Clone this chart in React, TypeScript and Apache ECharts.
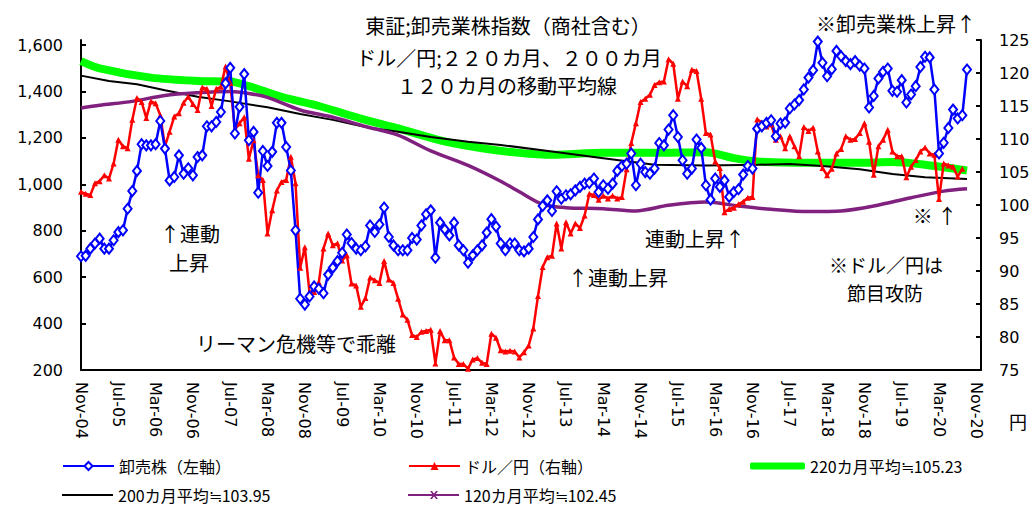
import React, { useEffect, useRef } from "react";
import * as echarts from "echarts";

// ---- categories: monthly, Nov-04 .. Dec-20 ----
const MONTHS = ["Jan", "Feb", "Mar", "Apr", "May", "Jun", "Jul", "Aug", "Sep", "Oct", "Nov", "Dec"];
const FIRST_MONTH = 10; // Nov
const FIRST_YEAR = 4; // 2004
const CATEGORY_COUNT = 194;
const categories: string[] = [];
for (let i = 0; i < CATEGORY_COUNT; i++) {
  const m = (FIRST_MONTH + i) % 12;
  const y = FIRST_YEAR + Math.floor((FIRST_MONTH + i) / 12);
  categories.push(`${MONTHS[m]}-${String(y).padStart(2, "0")}`);
}

// ---- 卸売株 (left axis) ----
const wholesale = [
  690, 692, 723, 745, 766, 723, 723, 759, 794, 802,
  895, 971, 1058, 1173, 1168, 1168, 1173, 1273, 1154, 1017,
  1032, 1125, 1046, 1069, 1039, 1118, 1125, 1250, 1250, 1269,
  1312, 1435, 1502, 1219, 1334, 1475, 1190, 1226, 964, 1144,
  1079, 1140, 1265, 1265, 1161, 1060, 802, 507, 482, 517,
  560, 550, 531, 611, 641, 669, 705, 784, 747, 723,
  716, 733, 823, 795, 827, 900, 773, 737, 716, 716,
  716, 769, 762, 823, 871, 888, 684, 835, 806, 780,
  835, 737, 716, 662, 694, 716, 737, 792, 850, 818,
  745, 716, 745, 745, 716, 711, 723, 773, 849, 907,
  931, 885, 970, 938, 953, 957, 974, 989, 1003, 1006,
  1025, 967, 996, 981, 1003, 1058, 1079, 1089, 1133, 996,
  1089, 1053, 1046, 1068, 1178, 1168, 1236, 1298, 1204, 1104,
  1046, 1068, 1193, 1157, 996, 934, 1025, 989, 1017, 946,
  967, 979, 1042, 1079, 1068, 1240, 1250, 1265, 1276, 1207,
  1262, 1266, 1327, 1344, 1363, 1409, 1460, 1492, 1615, 1524,
  1466, 1496, 1575, 1552, 1531, 1518, 1531, 1511, 1499, 1331,
  1381, 1456, 1485, 1499, 1403, 1399, 1449, 1353, 1387, 1423,
  1506, 1550, 1547, 1409, 1133, 1179, 1243, 1322, 1284, 1298,
  1495,
];

// ---- ドル／円 (right axis) ----
const usdjpy = [
  102.0, 101.7, 101.5, 103.3, 103.6, 104.5, 104.0, 106.3, 109.9, 108.9,
  108.6, 112.9, 116.2, 115.6, 113.2, 115.7, 115.4, 113.6, 108.9, 111.1,
  113.4, 113.9, 115.5, 116.4, 115.3, 114.4, 117.8, 117.6, 115.0, 117.6,
  117.9, 121.0, 118.5, 111.4, 112.4, 113.3, 107.0, 109.8, 104.5, 103.8,
  95.7, 99.2, 102.2, 103.5, 103.8, 107.3, 103.3, 90.5, 93.6, 86.8,
  86.8, 88.3, 93.4, 95.7, 93.9, 94.2, 91.6, 92.4, 88.1, 87.8,
  84.6, 85.9, 89.0, 88.6, 88.2, 91.5, 88.7, 88.2, 85.8, 83.4,
  82.6, 80.3, 80.0, 80.8, 80.9, 81.1, 76.0, 80.9, 79.5, 79.5,
  76.9, 75.9, 75.9, 75.2, 76.6, 76.8, 76.1, 75.9, 80.5, 79.9,
  78.0, 77.8, 77.9, 77.8, 76.9, 77.7, 78.7, 81.3, 86.2, 90.6,
  92.1, 92.3, 97.2, 93.4, 97.4, 95.7, 97.2, 96.5, 98.4, 101.7,
  101.5, 100.8, 101.4, 101.0, 101.4, 101.0, 101.2, 105.4, 109.4, 112.4,
  115.6, 116.1, 116.7, 118.2, 118.6, 118.7, 122.1, 121.4, 116.1, 118.7,
  118.0, 120.5, 120.3, 116.1, 110.9, 110.7, 106.6, 105.6, 98.9, 99.4,
  99.6, 100.1, 100.5, 101.1, 101.2, 113.0, 112.5, 111.9, 112.2, 109.9,
  110.4, 108.6, 110.4, 108.9, 107.4, 111.8, 111.2, 111.7, 108.1, 105.6,
  104.5, 105.5, 107.8, 108.5, 110.4, 109.9, 110.0, 110.9, 112.4, 109.6,
  104.6, 108.9, 109.9, 111.4, 108.1, 107.4, 107.4, 104.2, 105.8, 106.8,
  108.1, 108.7, 107.8, 107.6, 100.9, 106.3, 106.0, 105.8, 104.3, 105.5,
];

// ---- moving averages (right axis), read at [month index, value] ----
const ma220 = [
  [0, 121.8], [4, 120.7], [15, 119.3], [25, 118.8], [32, 118.7], [36, 118.0],
  [43, 116.4], [51, 115.0], [60, 113.1], [68, 111.6], [77, 109.8], [86, 108.6],
  [94, 107.9], [101, 107.6], [112, 107.9], [123, 107.9], [134, 108.0], [140, 107.1],
  [145, 106.6], [156, 106.4], [167, 106.4], [174, 106.5], [181, 106.1], [190, 105.23],
];
const ma200 = [
  [0, 119.6], [6, 118.8], [12, 118.3], [18, 117.4], [25, 116.4], [32, 115.7],
  [40, 114.8], [47, 113.8], [54, 112.9], [61, 111.8], [68, 111.1], [75, 110.3],
  [83, 109.6], [90, 109.1], [101, 108.1], [112, 107.1], [123, 106.1], [134, 106.0],
  [145, 106.1], [152, 106.2], [159, 105.9], [167, 105.4], [174, 104.7], [181, 104.2],
  [190, 103.95],
];
const ma120 = [
  [0, 114.7], [4, 115.1], [11, 115.7], [18, 116.6], [25, 117.0], [32, 117.2],
  [36, 116.9], [40, 116.3], [47, 114.4], [54, 113.3], [61, 111.9], [68, 110.6],
  [75, 108.2], [83, 106.0], [90, 103.6], [94, 102.0], [99, 100.1], [104, 99.6],
  [112, 99.45], [119, 99.1], [126, 99.95], [134, 100.45], [141, 99.85], [148, 99.35],
  [156, 99.0], [163, 99.1], [170, 99.85], [178, 101.1], [185, 102.1], [190, 102.45],
];

const leftTicks = [200, 400, 600, 800, 1000, 1200, 1400, 1600];

const NAME_WHOLESALE = "卸売株（左軸）";
const NAME_USDJPY = "ドル／円（右軸）";
const NAME_MA220 = "220カ月平均≒105.23";
const NAME_MA200 = "200カ月平均≒103.95";
const NAME_MA120 = "120カ月平均≒102.45";

const JP = '"Noto Sans CJK JP", "Noto Sans", sans-serif';
const NUM = '"DejaVu Sans", sans-serif';

const ICON_PURPLE =
  "path://M0,4L51,4L51,6L0,6Z M22,1L24,1L30,9L28,9Z M28,1L30,1L24,9L22,9Z";

function txt(text: string, x: number, y: number, size = 19, align = "center") {
  return {
    type: "text",
    silent: true,
    style: { text, x, y, align, verticalAlign: "middle", fontSize: size, fontFamily: JP, fill: "#000" },
  };
}

export default function App() {
  const ref = useRef<HTMLDivElement>(null);
  useEffect(() => {
    if (!ref.current) return;
    const chart = echarts.init(ref.current, null, { renderer: "svg" });
    const legendBase = {
      itemWidth: 51,
      itemHeight: 10,
      padding: 0,
      textStyle: { fontSize: 16, fontFamily: JP, color: "#000" },
      selectedMode: false,
    };
    chart.setOption({
      animation: false,
      backgroundColor: "#fff",
      grid: { left: 81, right: 55, top: 40, bottom: 137 },
      xAxis: {
        type: "category",
        data: categories,
        boundaryGap: false,
        axisLine: { lineStyle: { color: "#000", width: 2 } },
        axisTick: { show: false },
        axisLabel: {
          interval: (i: number) => i % 8 === 0,
          rotate: -90,
          margin: 12,
          fontFamily: NUM,
          fontSize: 16,
          color: "#000",
        },
        splitLine: { show: false },
      },
      yAxis: [
        {
          type: "value",
          min: 200,
          max: 1622,
          position: "left",
          axisLine: { show: true, lineStyle: { color: "#000", width: 2 } },
          axisTick: { show: true, inside: true, length: 5, lineStyle: { color: "#000", width: 2 }, customValues: leftTicks },
          axisLabel: {
            customValues: leftTicks,
            formatter: (v: number) => v.toLocaleString("en-US"),
            margin: 18,
            fontSize: 16,
            fontFamily: NUM,
            color: "#000",
          },
          splitLine: { show: false },
        },
        {
          type: "value",
          min: 75,
          max: 125,
          interval: 5,
          position: "right",
          axisLine: { show: true, lineStyle: { color: "#000", width: 2 } },
          axisTick: { show: true, inside: true, length: 5, lineStyle: { color: "#000", width: 2 } },
          axisLabel: { margin: 18, fontSize: 16, fontFamily: NUM, color: "#000" },
          splitLine: { show: false },
        },
      ],
      legend: [
        { ...legendBase, data: [NAME_WHOLESALE], left: 62, top: 458 },
        { ...legendBase, data: [NAME_USDJPY], left: 408, top: 458 },
        {
          ...legendBase,
          itemWidth: 55,
          itemHeight: 7,
          data: [{ name: NAME_MA220, icon: "roundRect" }],
          left: 750,
          top: 458,
        },
        {
          ...legendBase,
          itemHeight: 2,
          data: [{ name: NAME_MA200, icon: "rect" }],
          left: 62,
          top: 487,
        },
        { ...legendBase, data: [{ name: NAME_MA120, icon: ICON_PURPLE }], left: 408, top: 487 },
      ],
      series: [
        {
          name: NAME_MA220,
          type: "line",
          yAxisIndex: 1,
          data: ma220,
          symbol: "none",
          smooth: 0.3,
          lineStyle: { color: "#00FF00", width: 8 },
          itemStyle: { color: "#00FF00" },
        },
        {
          name: NAME_MA200,
          type: "line",
          yAxisIndex: 1,
          data: ma200,
          symbol: "none",
          lineStyle: { color: "#000", width: 2 },
          itemStyle: { color: "#000" },
        },
        {
          name: NAME_MA120,
          type: "line",
          yAxisIndex: 1,
          data: ma120,
          symbol: "none",
          smooth: 0.3,
          lineStyle: { color: "#80207F", width: 3.5 },
          itemStyle: { color: "#80207F" },
        },
        {
          name: NAME_USDJPY,
          type: "line",
          yAxisIndex: 1,
          data: usdjpy,
          symbol: "triangle",
          symbolSize: 6,
          showAllSymbol: true,
          lineStyle: { color: "#FF0000", width: 2.5 },
          itemStyle: { color: "#FF0000" },
        },
        {
          name: NAME_WHOLESALE,
          type: "line",
          yAxisIndex: 0,
          data: wholesale,
          symbol: "emptyDiamond",
          symbolSize: [8, 10],
          showAllSymbol: true,
          lineStyle: { color: "#0000FF", width: 2.5 },
          itemStyle: { color: "#0000FF", borderColor: "#0000FF", borderWidth: 1.5 },
        },
      ],
      graphic: [
        txt("東証;卸売業株指数（商社含む）", 508, 25, 20),
        txt("ドル／円;２２０カ月、２００カ月", 509, 57, 20),
        txt("１２０カ月の移動平均線", 507, 85, 20),
        txt("※卸売業株上昇↑", 896, 23, 20),
        txt("↑連動", 190, 233, 20),
        txt("上昇", 189, 262, 20),
        txt("リーマン危機等で乖離", 296, 343, 20),
        txt("↑連動上昇", 618, 277, 20),
        txt("連動上昇↑", 695, 238, 20),
        txt("※ ↑", 935, 215, 20),
        txt("※ドル／円は", 886, 264, 19),
        txt("節目攻防", 885, 292, 19),
        txt("円", 1018, 421, 18),
      ],
    });
    return () => chart.dispose();
  }, []);
  return (
    <div
      ref={ref}
      style={{ position: "fixed", left: 0, top: 0, width: 1036, height: 507, background: "#fff" }}
    />
  );
}
